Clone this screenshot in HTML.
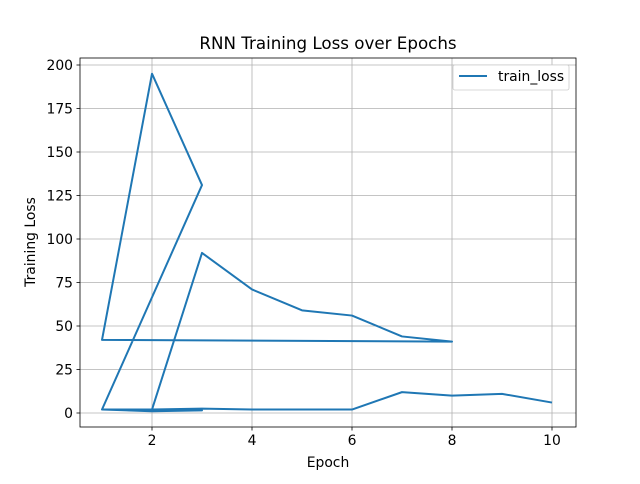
<!DOCTYPE html>
<html><head><meta charset="utf-8"><style>
body{margin:0;background:#fff;font-family:"DejaVu Sans","Liberation Sans",sans-serif}
svg text{font-family:"DejaVu Sans","Liberation Sans",sans-serif}
</style></head><body>
<svg id="c" width="640" height="480" xmlns="http://www.w3.org/2000/svg"></svg>
<script>
const epochs = [1,2,3, 1,2,3,4,5,6,7,8, 1,2,3, 1,2,3,4,5,6,7,8,9,10];
const trainLoss = [2,1,1.5, 2,2,92,71,59,56,44,41, 42,195,131, 2,2,2.5,2,2,2,12,10,11,6];
const xTicks = [2,4,6,8,10];
const yTicks = [0,25,50,75,100,125,150,175,200];
const L=80,R=576,T=58,B=427;
const x=v=>102+(v-1)*50;
const y=v=>413-(v)*1.74;
const svg=document.getElementById('c');
const NS='http://www.w3.org/2000/svg';
function mk(t,a,txt){const e=document.createElementNS(NS,t);for(const k in a)e.setAttribute(k,a[k]);if(txt!==undefined)e.textContent=txt;svg.appendChild(e);return e;}
xTicks.forEach(v=>{
  const g=mk('line',{x1:x(v),x2:x(v),y1:T,y2:B,stroke:'#b0b0b0','stroke-width':0.8});
  
  
  mk('line',{x1:x(v),x2:x(v),y1:B,y2:B+3.5,stroke:'#000','stroke-width':0.8});
  const t=mk('text',{x:x(v),y:B+18,'text-anchor':'middle','font-size':13.9,fill:'#000'},v);
  
  
});
yTicks.forEach(v=>{
  const g=mk('line',{x1:L,x2:R,y1:y(v),y2:y(v),stroke:'#b0b0b0','stroke-width':0.8});
  
  
  mk('line',{x1:L-3.5,x2:L,y1:y(v),y2:y(v),stroke:'#000','stroke-width':0.8});
  const t=mk('text',{x:L-7,y:y(v)+5,'text-anchor':'end','font-size':13.9,fill:'#000'},v);
  
  
});
const pts=epochs.map((e,i)=>x(e)+','+y(trainLoss[i])).join(' ');
const line=mk('polyline',{points:pts,fill:'none',stroke:'#1f77b4','stroke-width':2,'stroke-linejoin':'round'});


const f=mk('rect',{x:L,y:T,width:R-L,height:B-T,fill:'none',stroke:'#000','stroke-width':0.8});


const ti=mk('text',{x:328,y:49,'text-anchor':'middle','font-size':16.7,fill:'#000'},'RNN Training Loss over Epochs');


const xl=mk('text',{x:328,y:467,'text-anchor':'middle','font-size':13.9,fill:'#000'},'Epoch');


const yl=mk('text',{x:35,y:242,'text-anchor':'middle','font-size':13.9,fill:'#000',transform:'rotate(-90 35 242)'},'Training Loss');


const lb=mk('rect',{x:453,y:65,width:116,height:25,rx:2,fill:'#fff',stroke:'#ccc','stroke-width':0.8});


mk('line',{x1:459,x2:487,y1:76,y2:76,stroke:'#1f77b4','stroke-width':2});
const lt=mk('text',{x:498,y:81,'font-size':13.9,fill:'#000'},'train_loss');


</script>
</body></html>
